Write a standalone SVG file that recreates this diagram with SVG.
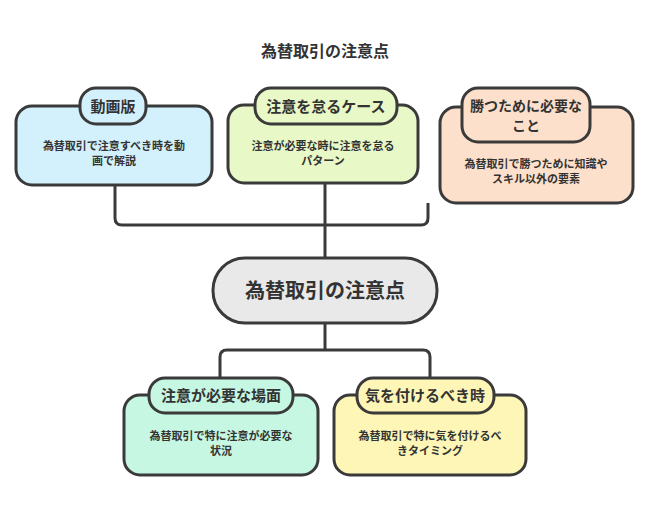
<svg xmlns="http://www.w3.org/2000/svg" width="650" height="512" viewBox="0 0 650 512">
<style>
text{font-family:"Noto Sans CJK JP","Noto Sans",sans-serif;fill:#333;text-anchor:middle;font-weight:bold}
.b{stroke:#3a3a3a;stroke-width:3}
.c{fill:none;stroke:#3a3a3a;stroke-width:3;stroke-linejoin:round}
.t{font-size:15px}
.d{font-size:11px}
</style>
<rect width="650" height="512" fill="#fff"/>
<text x="325" y="57" style="font-size:16px">為替取引の注意点</text>
<g id="connectors">
<path class="c" d="M115 185V218Q115 225 122 225H421Q428 225 428 218V203M325 183V260"/>
<path class="c" d="M325 323V350H227Q220 350 220 357V378M325 350H423Q430 350 430 357V378"/>
</g>
<g id="n1"><rect class="b" x="16" y="106" width="196" height="79" rx="16" fill="#d3f1fc"/>
<rect class="b" x="80" y="88" width="66" height="36" rx="16" fill="#d3f1fc"/>
<text class="t" x="113" y="112">動画版</text>
<text class="d" x="114" y="150">為替取引で注意すべき時を動</text><text class="d" x="114" y="165">画で解説</text></g>
<g id="n2"><rect class="b" x="228" y="105" width="190" height="78" rx="16" fill="#e8f8c6"/>
<rect class="b" x="255" y="88" width="142" height="36" rx="16" fill="#e8f8c6"/>
<text class="t" x="326" y="112">注意を怠るケース</text>
<text class="d" x="323" y="150">注意が必要な時に注意を怠る</text><text class="d" x="323" y="165">パターン</text></g>
<g id="n3"><rect class="b" x="440" y="107" width="193" height="96" rx="16" fill="#fde0cb"/>
<rect class="b" x="462" y="88" width="128" height="54" rx="16" fill="#fde0cb"/>
<text x="526" y="111" style="font-size:14px">勝つために必要な</text><text x="526" y="131" style="font-size:14px">こと</text>
<text class="d" x="536" y="168">為替取引で勝つために知識や</text><text class="d" x="536" y="183">スキル以外の要素</text></g>
<g id="center"><rect class="b" x="213" y="258" width="224" height="65" rx="32" fill="#e9e9e9"/>
<text x="325" y="298" style="font-size:20px">為替取引の注意点</text></g>
<g id="n4"><rect class="b" x="124" y="395" width="194" height="80" rx="16" fill="#c6f7e2"/>
<rect class="b" x="149" y="378" width="144" height="35" rx="16" fill="#c6f7e2"/>
<text class="t" x="221" y="401">注意が必要な場面</text>
<text class="d" x="221" y="440">為替取引で特に注意が必要な</text><text class="d" x="221" y="455">状況</text></g>
<g id="n5"><rect class="b" x="334" y="395" width="192" height="80" rx="16" fill="#fdf6b6"/>
<rect class="b" x="357" y="378" width="137" height="35" rx="16" fill="#fdf6b6"/>
<text class="t" x="425" y="401">気を付けるべき時</text>
<text class="d" x="430" y="440">為替取引で特に気を付けるべ</text><text class="d" x="430" y="455">きタイミング</text></g>
</svg>
